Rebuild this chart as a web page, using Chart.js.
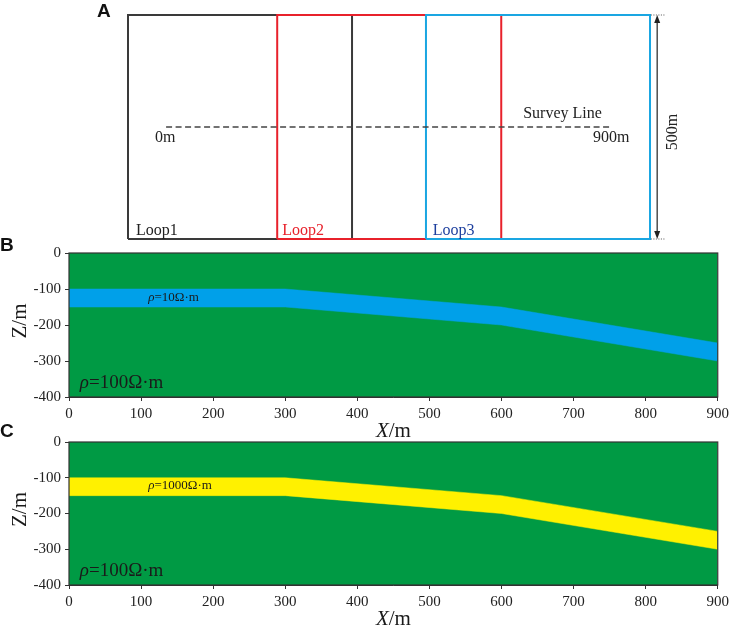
<!DOCTYPE html>
<html><head><meta charset="utf-8">
<script src="https://cdn.jsdelivr.net/npm/chart.js@4/dist/chart.umd.min.js"></script>
<style>
html,body{margin:0;padding:0;background:#fff}
body{width:733px;height:627px;overflow:hidden;position:relative}
.box{position:absolute;left:0;width:733px}
</style></head><body>
<div class="box" style="top:0;height:245px"><canvas id="cA"></canvas></div>
<div class="box" style="top:230px;height:210px"><canvas id="cB"></canvas></div>
<div class="box" style="top:417px;height:210px"><canvas id="cC"></canvas></div>
<script>
// ---------- Panel A data (metres) ----------
const loopNames = ['Loop1', 'Loop2', 'Loop3'];
const loopLeft = [0, 333, 665];
const loopSize = 500;
const loopColors = ['#3a3a3a', '#e8212b', '#1aa6e2'];
const loopTextColors = ['#222222', '#e8212b', '#1d3f9e'];
const surveyX = [85, 1080];
const surveyY = [250, 250];
const surveyLabels = ['0m', '900m', 'Survey Line'];
const sideLabel = '500m';

// ---------- Panels B / C data ----------
const modelX = [0, 300, 600, 900];
const layerTop = [-100, -100, -150, -250];
const layerBottom = [-150, -150, -200, -300];
const surfaceY = [0, 0];
const surfaceX = [0, 900];
const xTicks = [0, 100, 200, 300, 400, 500, 600, 700, 800, 900];
const yTicks = [0, -100, -200, -300, -400];
const yMinorTicks = [-50, -150, -250, -350];
const layerLabels = ['ρ=10Ω·m', 'ρ=1000Ω·m'];
const hostLabel = 'ρ=100Ω·m';
const panelLetters = ['A', 'B', 'C'];

const SERIF = "'Liberation Serif','Times New Roman',serif";
const SANS = "'Liberation Sans',Arial,sans-serif";

function drawParts(ctx, parts, x, y, size, align, color) {
  ctx.save();
  ctx.fillStyle = color;
  ctx.textBaseline = 'middle';
  ctx.textAlign = 'left';
  let total = 0;
  const widths = parts.map(p => {
    ctx.font = (p[1] ? 'italic ' : '') + size + 'px ' + SERIF;
    const w = ctx.measureText(p[0]).width;
    total += w;
    return w;
  });
  let cx = align === 'center' ? x - total / 2 : x;
  parts.forEach((p, i) => {
    ctx.font = (p[1] ? 'italic ' : '') + size + 'px ' + SERIF;
    ctx.fillText(p[0], cx, y);
    cx += widths[i];
  });
  ctx.restore();
}
function rhoParts(str) { return [[str[0], true], [str.slice(1), false]]; }

// ---------- Panel A ----------
const loopData = loopLeft.map(l => [
  {x: l, y: 0}, {x: l + loopSize, y: 0}, {x: l + loopSize, y: loopSize},
  {x: l, y: loopSize}, {x: l, y: 0}
]);

const panelAPlugin = {
  id: 'panelA',
  afterDatasetsDraw(chart) {
    const ctx = chart.ctx, xs = chart.scales.x, ys = chart.scales.y;
    const offs = [18, 11, 15];
    loopNames.forEach((n, i) => {
      ctx.save();
      ctx.font = '16px ' + SERIF;
      ctx.fillStyle = loopTextColors[i];
      ctx.textBaseline = 'alphabetic';
      ctx.fillText(n, xs.getPixelForValue(loopLeft[i] + offs[i]), ys.getPixelForValue(9));
      ctx.restore();
    });
    drawParts(ctx, [[surveyLabels[0], false]], xs.getPixelForValue(60), ys.getPixelForValue(225), 16, 'left', '#222');
    drawParts(ctx, [[surveyLabels[1], false]], xs.getPixelForValue(1038), ys.getPixelForValue(225), 16, 'left', '#222');
    drawParts(ctx, [[surveyLabels[2], false]], xs.getPixelForValue(882), ys.getPixelForValue(279), 16, 'left', '#222');
    const ax = xs.getPixelForValue(1181);
    const yt = ys.getPixelForValue(loopSize), yb = ys.getPixelForValue(0);
    ctx.save();
    ctx.strokeStyle = '#222'; ctx.fillStyle = '#222'; ctx.lineWidth = 1.2;
    ctx.beginPath(); ctx.moveTo(ax, yt + 4); ctx.lineTo(ax, yb - 4); ctx.stroke();
    ctx.beginPath(); ctx.moveTo(ax, yt); ctx.lineTo(ax - 3, yt + 8); ctx.lineTo(ax + 3, yt + 8); ctx.closePath(); ctx.fill();
    ctx.beginPath(); ctx.moveTo(ax, yb); ctx.lineTo(ax - 3, yb - 8); ctx.lineTo(ax + 3, yb - 8); ctx.closePath(); ctx.fill();
    ctx.setLineDash([1, 1.5]); ctx.strokeStyle = '#555'; ctx.lineWidth = 1;
    [yt, yb].forEach(yy => {
      ctx.beginPath(); ctx.moveTo(xs.getPixelForValue(1167), yy); ctx.lineTo(xs.getPixelForValue(1199), yy); ctx.stroke();
    });
    ctx.restore();
    ctx.save();
    ctx.translate(xs.getPixelForValue(1216), ys.getPixelForValue(239));
    ctx.rotate(-Math.PI / 2);
    ctx.font = '16px ' + SERIF; ctx.fillStyle = '#222';
    ctx.textAlign = 'center'; ctx.textBaseline = 'middle';
    ctx.fillText(sideLabel, 0, 0);
    ctx.restore();
    ctx.save();
    ctx.font = 'bold 19px ' + SANS; ctx.fillStyle = '#111'; ctx.textBaseline = 'alphabetic';
    ctx.fillText(panelLetters[0], 97, 17);
    ctx.restore();
  }
};

new Chart(document.getElementById('cA'), {
  type: 'scatter',
  data: {
    datasets: [
      ...loopData.map((d, i) => ({
        label: loopNames[i], data: d, showLine: true, borderColor: loopColors[i],
        borderWidth: 2, pointRadius: 0, tension: 0, clip: false, order: 3 - i
      })),
      {label: 'Survey Line', data: surveyX.map((x, i) => ({x, y: surveyY[i]})), showLine: true,
        borderColor: '#444', borderWidth: 1.5, borderDash: [6, 3.5], pointRadius: 0, clip: false, order: -1}
    ]
  },
  options: {
    responsive: true, maintainAspectRatio: false, animation: false,
    layout: {padding: {left: 128, right: 83, top: 15, bottom: 6}},
    plugins: {legend: {display: false}, tooltip: {enabled: false}},
    scales: {
      x: {type: 'linear', min: 0, max: 1165, display: false},
      y: {type: 'linear', min: 0, max: 500, display: false}
    }
  },
  plugins: [panelAPlugin]
});

// ---------- Panels B and C ----------
function makeModel(id, layerColor, layerLabel, letter, padTop, axisH, letterY) {
  const deco = {
    id: 'deco' + id,
    afterDatasetsDraw(chart) {
      const ctx = chart.ctx, ca = chart.chartArea, xs = chart.scales.x, ys = chart.scales.y;
      ctx.save();
      ctx.strokeStyle = '#333'; ctx.lineWidth = 1.2;
      ctx.strokeRect(ca.left, ca.top, ca.right - ca.left, ca.bottom - ca.top);
      ctx.restore();
      drawParts(ctx, rhoParts(layerLabel), xs.getPixelForValue(110), ys.getPixelForValue(-123), 13, 'left', '#1a1a1a');
      drawParts(ctx, rhoParts(hostLabel), xs.getPixelForValue(15), ys.getPixelForValue(-361), 19, 'left', '#1a1a1a');
    },
    afterDraw(chart) {
      const ctx = chart.ctx, ca = chart.chartArea, xs = chart.scales.x;
      drawParts(ctx, [['X', true], ['/m', false]], xs.getPixelForValue(450), ca.bottom + 34, 21, 'center', '#1a1a1a');
      ctx.save();
      ctx.translate(20, (ca.top + ca.bottom) / 2 - 4);
      ctx.rotate(-Math.PI / 2);
      ctx.font = '21px ' + SERIF; ctx.fillStyle = '#1a1a1a';
      ctx.textAlign = 'center'; ctx.textBaseline = 'middle';
      ctx.fillText('Z/m', 0, 0);
      ctx.restore();
      ctx.save();
      ctx.font = 'bold 19px ' + SANS; ctx.fillStyle = '#111'; ctx.textBaseline = 'alphabetic';
      ctx.fillText(letter, 0, letterY);
      ctx.restore();
    }
  };
  new Chart(document.getElementById(id), {
    type: 'line',
    data: {
      datasets: [
        {label: 'host', data: surfaceX.map((x, i) => ({x, y: surfaceY[i]})), fill: 'start',
          backgroundColor: '#009a44', borderWidth: 0, pointRadius: 0, tension: 0, order: 3},
        {label: 'top', data: modelX.map((x, i) => ({x, y: layerTop[i]})), fill: false,
          borderColor: layerColor, borderWidth: 0.5, pointRadius: 0, tension: 0, order: 2},
        {label: 'bottom', data: modelX.map((x, i) => ({x, y: layerBottom[i]})), fill: '-1',
          backgroundColor: layerColor, borderColor: layerColor, borderWidth: 0.5, pointRadius: 0, tension: 0, order: 1}
      ]
    },
    options: {
      responsive: true, maintainAspectRatio: false, animation: false,
      layout: {padding: {left: 0, right: 14, top: padTop, bottom: 0}},
      plugins: {legend: {display: false}, tooltip: {enabled: false}},
      scales: {
        x: {
          type: 'linear', min: 0, max: 900,
          afterBuildTicks: s => { s.ticks = xTicks.map(v => ({value: v})); },
          afterFit: s => { s.height = axisH; },
          ticks: {font: {family: SERIF, size: 15}, color: '#222', padding: 4, maxRotation: 0,
            callback: v => String(v)},
          grid: {drawOnChartArea: false, tickLength: 4, color: '#333', lineWidth: 1},
          border: {color: '#333', width: 1}
        },
        y: {
          type: 'linear', min: -400, max: 0,
          afterBuildTicks: s => { s.ticks = yTicks.concat(yMinorTicks).sort((a, b) => b - a).map(v => ({value: v})); },
          afterFit: s => { s.width = 69; },
          ticks: {font: {family: SERIF, size: 15}, color: '#222', padding: 4,
            callback: v => yTicks.includes(v) ? String(v) : ''},
          grid: {drawOnChartArea: false, tickLength: 4, color: '#333', lineWidth: 1},
          border: {color: '#333', width: 1}
        }
      }
    },
    plugins: [deco]
  });
}

makeModel('cB', '#00a0e9', layerLabels[0], panelLetters[1], 23, 43, 21);
makeModel('cC', '#fff100', layerLabels[1], panelLetters[2], 25, 42, 20);
</script>
</body></html>
